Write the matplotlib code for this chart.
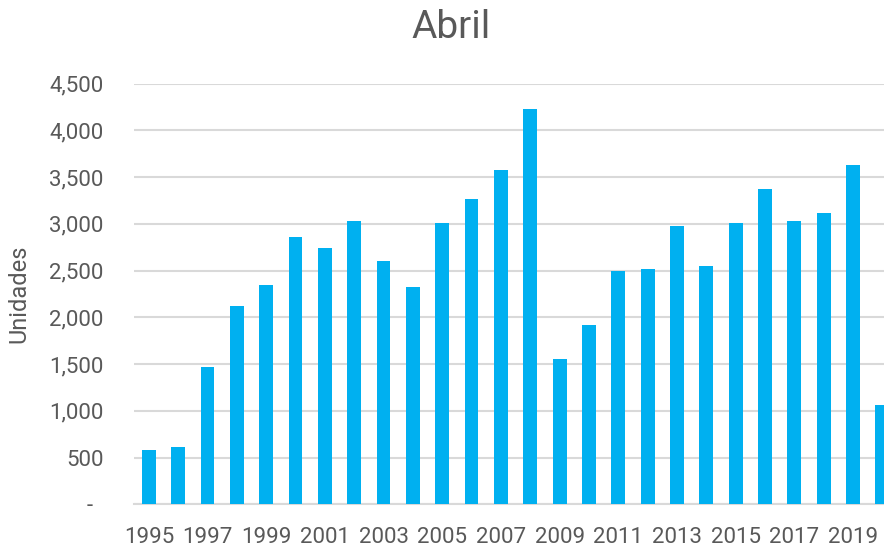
import matplotlib.pyplot as plt
from matplotlib.ticker import FuncFormatter
import numpy as np

# datos
years = list(range(1995, 2021))
units = [581, 610, 1466, 2121, 2346, 2860, 2745, 3031, 2603, 2321,
         3006, 3263, 3577, 4229, 1551, 1918, 2493, 2517, 2977, 2546,
         3006, 3373, 3031, 3116, 3630, 1062]
y_ticks = [0, 500, 1000, 1500, 2000, 2500, 3000, 3500, 4000, 4500]

text_color = '#595959'
bar_color = '#00B0F0'
grid_color = '#D9D9D9'

plt.rcParams['font.family'] = ['Roboto', 'DejaVu Sans']

fig = plt.figure(figsize=(8.84, 5.47), dpi=100)
# el eje se extiende un poco mas alla del borde derecho (ultima barra cortada)
ax = fig.add_axes([134.3 / 884, 1 - 504.3 / 547, (897 - 134.3) / 884, (504.3 - 83.7) / 547])

x = np.arange(len(years))
ax.bar(x, units, width=0.467, color=bar_color, zorder=3)

ax.set_xlim(-0.5, len(years) - 0.5)
ax.set_ylim(0, 4500)
ax.set_yticks(y_ticks)
ax.yaxis.set_major_formatter(FuncFormatter(lambda v, p: '-  ' if v == 0 else f'{int(v):,}'))
ax.set_xticks(x[::2])
ax.set_xticklabels([str(y) for y in years[::2]])

ax.grid(axis='y', color=grid_color, linewidth=1.5, zorder=0)
for side in ['top', 'right', 'left']:
    ax.spines[side].set_visible(False)
ax.spines['bottom'].set_color(grid_color)
ax.spines['bottom'].set_linewidth(1.5)

ax.tick_params(axis='both', length=0, labelsize=16, labelcolor=text_color)
ax.tick_params(axis='y', pad=22)
ax.tick_params(axis='x', pad=16)

ax.set_ylabel('Unidades', fontsize=17, color=text_color, labelpad=14)
fig.text(451 / 884, 1 - 28 / 547, 'Abril', fontsize=28, color=text_color,
         ha='center', va='center')

fig.savefig('out.png', dpi=100)
